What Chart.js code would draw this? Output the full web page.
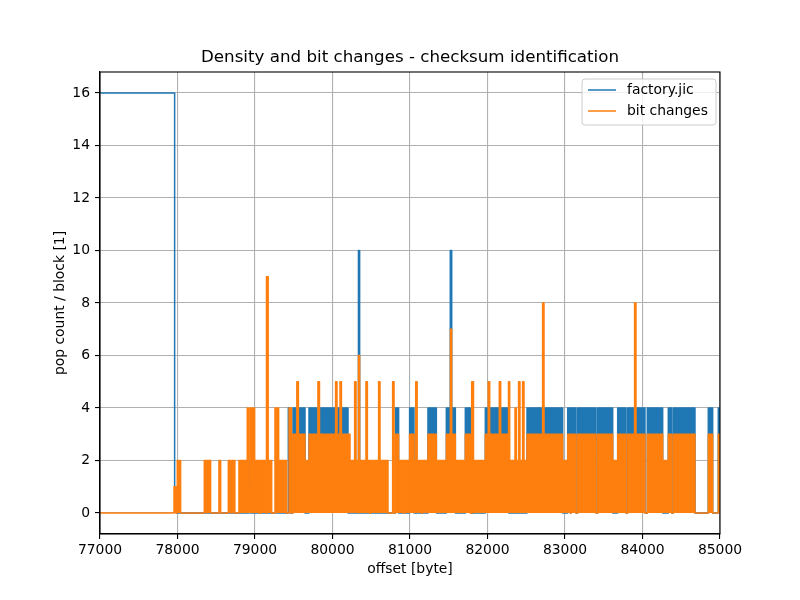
<!DOCTYPE html>
<html>
<head>
<meta charset="utf-8">
<script src="https://cdn.jsdelivr.net/npm/chart.js@4/dist/chart.umd.min.js"></script>
<style>
  html, body { margin: 0; padding: 0; background: #fff; }
  canvas { display: block; }
</style>
</head>
<body>
<canvas id="chart" width="800" height="600"></canvas>
<script>
// Ejes
const xTicks = [77000, 78000, 79000, 80000, 81000, 82000, 83000, 84000, 85000];
const yTicks = [0, 2, 4, 6, 8, 10, 12, 14, 16];
const seriesNames = ['factory.jic', 'bit changes'];
const chartTitle = 'Density and bit changes - checksum identification';

// Tramos [inicio, fin, nivel]
const densityPlateau = [[76900, 77963, 16]];
const densitySpans = [
    [77963, 77980, 1],
    [78922, 78942, 2],
    [79270, 79285, 2],
    [79430, 79452, 4],
    [79490, 79645, 4],
    [79697, 80200, 4],
    [80335, 80350, 10],
    [80814, 80853, 4],
    [80995, 81051, 4],
    [81232, 81340, 4],
    [81469, 81585, 4],
    [81520, 81538, 10],
    [81714, 81778, 4],
    [81972, 82273, 4],
    [82510, 82970, 4],
    [83035, 83070, 4],
    [83082, 83142, 4],
    [83164, 83400, 4],
    [83422, 83615, 4],
    [83680, 83787, 4],
    [83809, 84032, 4],
    [84062, 84260, 4],
    [84333, 84376, 4],
    [84398, 84677, 4],
    [84849, 84905, 4],
    [84978, 85100, 4]
];
const changeSpans = [
    [77955, 77980, 1],
    [77997, 78040, 2],
    [78346, 78380, 2],
    [78386, 78427, 2],
    [78535, 78557, 2],
    [78656, 78690, 2],
    [78706, 78740, 2],
    [78793, 78900, 2],
    [78900, 78922, 4],
    [78922, 78942, 1],
    [78942, 78995, 4],
    [78995, 79060, 2],
    [79075, 79140, 2],
    [79148, 79170, 9],
    [79170, 79215, 2],
    [79258, 79270, 4],
    [79270, 79285, 1],
    [79285, 79305, 4],
    [79305, 79409, 2],
    [79440, 79470, 4],
    [79490, 79645, 3],
    [79540, 79560, 5],
    [79645, 79700, 2],
    [79697, 80226, 3],
    [79812, 79832, 5],
    [80040, 80058, 5],
    [80097, 80115, 5],
    [80226, 80330, 2],
    [80338, 80480, 2],
    [80490, 80716, 2],
    [80286, 80304, 5],
    [80335, 80350, 6],
    [80432, 80450, 5],
    [80595, 80613, 5],
    [80776, 80794, 5],
    [80814, 80853, 3],
    [80853, 80920, 2],
    [80930, 80995, 2],
    [80995, 81051, 3],
    [81051, 81150, 2],
    [81160, 81232, 2],
    [81074, 81092, 5],
    [81232, 81340, 3],
    [81340, 81469, 2],
    [81469, 81585, 3],
    [81522, 81538, 7],
    [81585, 81714, 2],
    [81714, 81778, 3],
    [81796, 81814, 5],
    [81822, 81972, 2],
    [81972, 82273, 3],
    [82010, 82028, 5],
    [82152, 82170, 5],
    [82273, 82510, 2],
    [82268, 82286, 5],
    [82355, 82371, 4],
    [82401, 82419, 5],
    [82453, 82471, 5],
    [82510, 82970, 3],
    [82711, 82729, 8],
    [82970, 83035, 2],
    [83035, 83070, 3],
    [83082, 83142, 3],
    [83164, 83400, 3],
    [83422, 83615, 3],
    [83615, 83680, 2],
    [83680, 83787, 3],
    [83809, 84032, 3],
    [83898, 83916, 8],
    [84062, 84260, 3],
    [84260, 84333, 2],
    [84333, 84376, 3],
    [84398, 84677, 3],
    [84849, 84905, 3],
    [84978, 85100, 3]
];

const BLUE = '#1f77b4';
const ORANGE = '#ff7f0e';
const FONT = 'DejaVu Sans';

// Convierte los tramos en puntos de una función escalonada
function stepPoints(spans, x0, x1) {
    const xs = [x0, x1];
    spans.forEach(s => xs.push(s[0], s[1]));
    const bp = [...new Set(xs)].sort((a, b) => a - b);
    const levelAt = x => spans.reduce((m, s) => (x >= s[0] && x < s[1]) ? Math.max(m, s[2]) : m, 0);
    const pts = [];
    for (let i = 0; i < bp.length - 1; i++) {
        const lv = levelAt((bp[i] + bp[i + 1]) / 2);
        pts.push({ x: bp[i], y: lv }, { x: bp[i + 1], y: lv });
    }
    return pts;
}

const X0 = 76900, X1 = 85100;

// Título centrado sobre el área de datos (como matplotlib)
const titlePlugin = {
    id: 'mplTitle',
    afterDraw(chart) {
        const { ctx, chartArea: a } = chart;
        ctx.save();
        ctx.font = '16.7px "' + FONT + '"';
        ctx.fillStyle = '#000';
        ctx.textAlign = 'center';
        ctx.textBaseline = 'middle';
        ctx.fillText(chartTitle, (a.left + a.right) / 2, a.top - 14);
        ctx.restore();
    }
};

// Marco completo del área (como los spines de matplotlib)
const framePlugin = {
    id: 'frame',
    afterDatasetsDraw(chart) {
        const { ctx, chartArea: a } = chart;
        ctx.save();
        ctx.strokeStyle = '#000';
        ctx.lineWidth = 1.1;
        ctx.strokeRect(a.left, a.top, a.right - a.left, a.bottom - a.top);
        ctx.restore();
    }
};

// Leyenda con estilo matplotlib
const legendPlugin = {
    id: 'mplLegend',
    afterDraw(chart) {
        const { ctx, chartArea: a } = chart;
        const w = 134, h = 46;
        const x = a.right - 4 - w, y = a.top + 7;
        ctx.save();
        ctx.beginPath();
        ctx.roundRect(x, y, w, h, 3);
        ctx.fillStyle = 'rgba(255,255,255,0.8)';
        ctx.fill();
        ctx.strokeStyle = '#cccccc';
        ctx.lineWidth = 1;
        ctx.stroke();
        const colors = [BLUE, ORANGE];
        ctx.font = '13.9px "' + FONT + '"';
        ctx.textBaseline = 'middle';
        seriesNames.forEach((name, i) => {
            const ly = y + 11 + i * 21;
            ctx.beginPath();
            ctx.moveTo(x + 6, ly);
            ctx.lineTo(x + 34, ly);
            ctx.strokeStyle = colors[i];
            ctx.lineWidth = 1.5;
            ctx.stroke();
            ctx.fillStyle = '#000';
            ctx.fillText(name, x + 45, ly);
        });
        ctx.restore();
    }
};

const tickFont = { family: FONT, size: 13.9 };

new Chart(document.getElementById('chart'), {
    type: 'line',
    data: {
        datasets: [
            {
                label: seriesNames[0],
                data: stepPoints(densityPlateau.concat(densitySpans), X0, X1),
                borderColor: BLUE, borderWidth: 1.5, fill: false, order: 3
            },
            {
                label: 'fill0',
                data: stepPoints(densitySpans, X0, X1),
                borderColor: 'rgba(0,0,0,0)', borderWidth: 0,
                backgroundColor: BLUE, fill: 'origin', order: 4
            },
            {
                label: seriesNames[1],
                data: stepPoints(changeSpans, X0, X1),
                borderColor: ORANGE, borderWidth: 1.5, fill: false, order: 1
            },
            {
                label: 'fill1',
                data: stepPoints(changeSpans, X0, X1),
                borderColor: 'rgba(0,0,0,0)', borderWidth: 0,
                backgroundColor: ORANGE, fill: 'origin', order: 2
            }
        ]
    },
    options: {
        responsive: false,
        devicePixelRatio: 1,
        animation: false,
        parsing: false,
        elements: { point: { radius: 0 }, line: { tension: 0, borderJoinStyle: 'round' } },
        layout: { padding: { left: 0, right: 80, top: 72, bottom: 0 } },
        plugins: {
            legend: { display: false },
            tooltip: { enabled: false },
            title: { display: false }
        },
        scales: {
            x: {
                type: 'linear',
                min: 77000,
                max: 85000,
                afterBuildTicks: s => { s.ticks = xTicks.map(v => ({ value: v })); },
                afterFit: s => { s.height = 66; },
                ticks: { callback: v => String(v), color: '#000', font: tickFont, padding: 3, maxRotation: 0, autoSkip: false },
                grid: { color: '#b0b0b0', lineWidth: 1.1, tickColor: '#000', tickLength: 5, tickWidth: 1.1 },
                border: { color: '#000', width: 1.1 },
                title: { display: true, text: 'offset [byte]', color: '#000', font: tickFont, padding: { top: 0, bottom: 22.7 } }
            },
            y: {
                type: 'linear',
                min: -0.8,
                max: 16.8,
                afterBuildTicks: s => { s.ticks = yTicks.map(v => ({ value: v })); },
                afterFit: s => { s.width = 100; },
                ticks: { callback: v => String(v), color: '#000', font: tickFont, padding: 5, autoSkip: false },
                grid: { color: '#b0b0b0', lineWidth: 1.1, tickColor: '#000', tickLength: 5, tickWidth: 1.1 },
                border: { color: '#000', width: 1.1 },
                title: { display: true, text: 'pop count / block [1]', color: '#000', font: tickFont, padding: { top: 51.7, bottom: 0 } }
            }
        }
    },
    plugins: [framePlugin, legendPlugin, titlePlugin]
});
</script>
</body>
</html>
